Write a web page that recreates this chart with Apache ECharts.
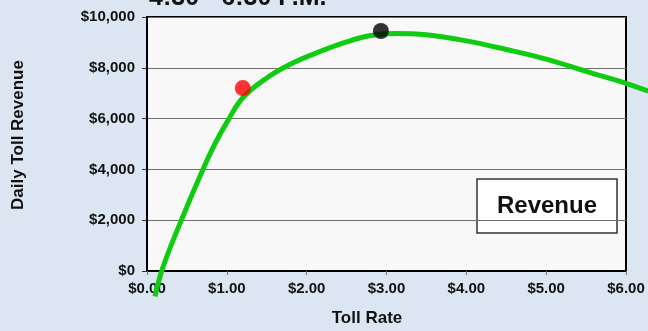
<!DOCTYPE html>
<html>
<head>
<meta charset="utf-8">
<script src="https://cdn.jsdelivr.net/npm/echarts@6/dist/echarts.min.js"></script>
<style>
html,body{margin:0;padding:0;background:#dce6f2;overflow:hidden;width:648px;height:331px;}
#c{width:700px;height:331px;}
</style>
</head>
<body>
<div id="c"></div>
<script>
// Data
var tollRates   = [0.10, 0.20, 0.43, 0.70, 0.85, 1.00, 1.20, 1.50, 1.80, 2.10, 2.50, 2.80, 3.10, 3.50, 4.00, 4.50, 5.00, 5.50, 6.00, 6.28];
var revenue     = [-1000, 150, 2000, 4000, 5000, 5850, 6820, 7600, 8150, 8560, 9020, 9270, 9350, 9300, 9060, 8720, 8340, 7860, 7390, 7080];
var currentPoint = [1.20, 7200];   // red marker
var optimalPoint = [2.93, 9450];   // black marker
var xTicks = [0, 1, 2, 3, 4, 5, 6];
var yTicks = [0, 2000, 4000, 6000, 8000, 10000];
var titleText = '4:30 - 6:30 P.M.';
var legendText = 'Revenue';
var xName = 'Toll Rate';
var yName = 'Daily Toll Revenue';

var FONT = '"Liberation Sans", Arial, sans-serif';
var chart = echarts.init(document.getElementById('c'), null, {renderer: 'canvas'});

var lineData = tollRates.map(function (x, i) { return [x, revenue[i]]; });

var xMin = xTicks[0], xMax = xTicks[xTicks.length - 1];
var yMin = yTicks[0], yMax = yTicks[yTicks.length - 1];
var plotLeft = 147, plotTop = 17, plotW = 479, plotH = 254;
// a hidden, wider twin axis lets the curve run past the right frame as in the source
var xMaxExt = 6.4;

chart.setOption({
  backgroundColor: '#dce6f2',
  animation: false,
  grid: [
    {
      left: plotLeft, top: plotTop, width: plotW, height: plotH,
      show: true, backgroundColor: '#f8f8f8',
      borderColor: '#000', borderWidth: 2,
      containLabel: false
    },
    {
      left: plotLeft, top: plotTop, width: plotW * (xMaxExt - xMin) / (xMax - xMin), height: plotH,
      show: false, containLabel: false
    }
  ],
  xAxis: [
    {
      gridIndex: 0, type: 'value', min: xMin, max: xMax, interval: 1,
      axisLine: {show: true, onZero: false, lineStyle: {color: '#000', width: 2}},
      axisTick: {show: true, length: 4, lineStyle: {color: '#777', width: 1}},
      splitLine: {show: false},
      axisLabel: {
        margin: 10, color: '#111', fontFamily: FONT, fontWeight: 'bold', fontSize: 15,
        formatter: function (v) { return '$' + v.toFixed(2); }
      }
    },
    {
      gridIndex: 1, type: 'value', min: xMin, max: xMaxExt, show: false,
      axisLine: {show: false}, axisTick: {show: false}, axisLabel: {show: false}, splitLine: {show: false}
    }
  ],
  yAxis: [
    {
      gridIndex: 0, type: 'value', min: yMin, max: yMax, interval: 2000,
      axisLine: {show: true, lineStyle: {color: '#000', width: 2}},
      axisTick: {show: true, length: 5, lineStyle: {color: '#333', width: 1}},
      splitLine: {show: true, lineStyle: {color: '#6e6e6e', width: 1}},
      axisLabel: {
        margin: 12, color: '#111', fontFamily: FONT, fontWeight: 'bold', fontSize: 15,
        formatter: function (v) { return '$' + v.toLocaleString('en-US'); }
      }
    },
    {
      gridIndex: 1, type: 'value', min: yMin, max: yMax, show: false,
      axisLine: {show: false}, axisTick: {show: false}, axisLabel: {show: false}, splitLine: {show: false}
    }
  ],
  series: [
    {
      type: 'line', name: legendText, data: lineData, xAxisIndex: 1, yAxisIndex: 1,
      smooth: 0.4, showSymbol: false, clip: false,
      lineStyle: {color: '#10cc10', width: 5},
      z: 3
    },
    {
      type: 'scatter', data: [currentPoint], xAxisIndex: 1, yAxisIndex: 1, symbolSize: 16, clip: false,
      itemStyle: {color: '#ff0000'}, z: 5
    },
    {
      type: 'scatter', data: [optimalPoint], xAxisIndex: 1, yAxisIndex: 1, symbolSize: 16, clip: false,
      itemStyle: {color: '#000000'}, z: 5
    }
  ],
  graphic: [
    {
      type: 'text', x: 149, y: -2,
      style: {text: titleText, font: 'bold 25px ' + FONT, fill: '#111', align: 'left', verticalAlign: 'middle'}
    },
    {
      type: 'text', x: 367, y: 318,
      style: {text: xName, font: 'bold 17px ' + FONT, fill: '#111', align: 'center', verticalAlign: 'middle'}
    },
    {
      type: 'text', x: 18, y: 135, rotation: Math.PI / 2,
      style: {text: yName, font: 'bold 17px ' + FONT, fill: '#111', align: 'center', verticalAlign: 'middle'}
    },
    {
      type: 'group', x: 477, y: 179,
      children: [
        {type: 'rect', shape: {x: 0, y: 0, width: 140, height: 54},
         style: {fill: '#fff', stroke: '#333', lineWidth: 1.5}},
        {type: 'text', x: 70, y: 27,
         style: {text: legendText, font: 'bold 24px ' + FONT, fill: '#111', align: 'center', verticalAlign: 'middle'}}
      ]
    }
  ]
});
</script>
</body>
</html>
